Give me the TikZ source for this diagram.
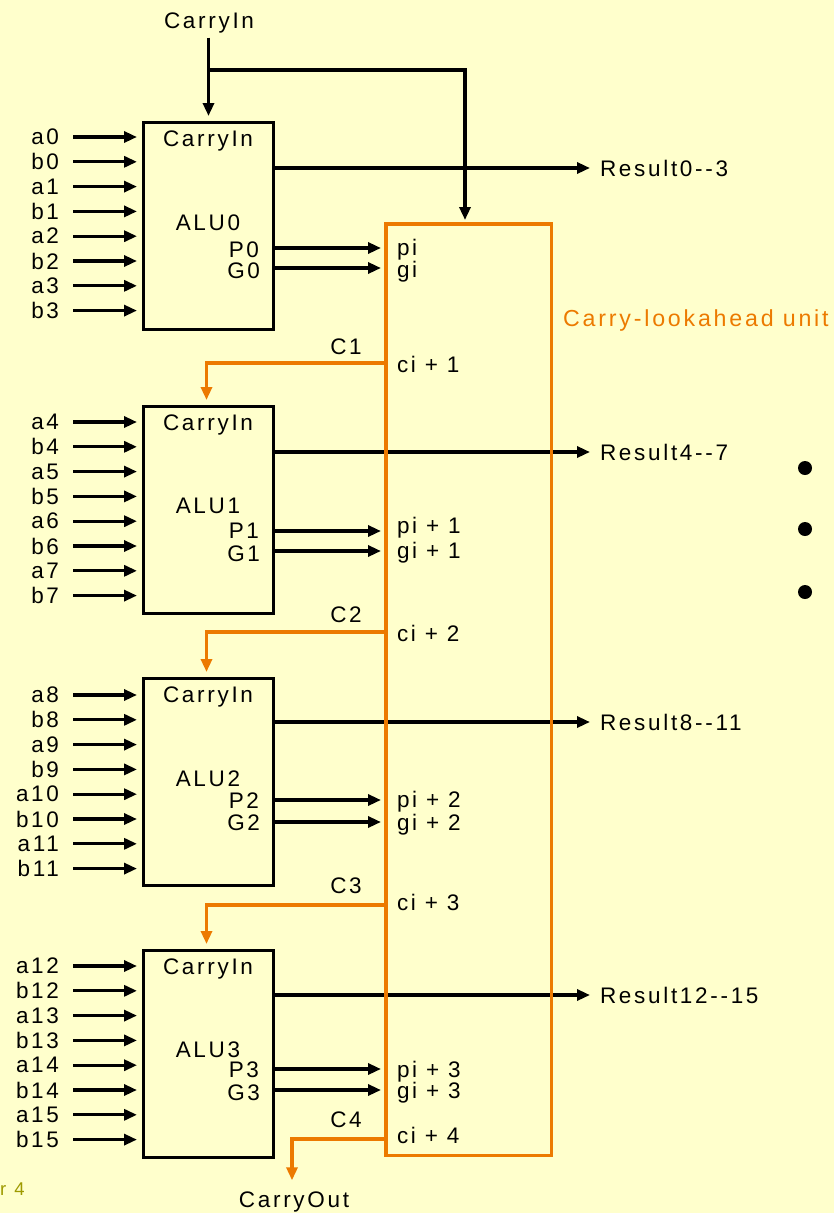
\documentclass[tikz,border=0pt]{standalone}
\usepackage{fontspec}
\usetikzlibrary{arrows.meta}
\newfontfamily\lf[LetterSpace=12,Ligatures=TeXOff]{Liberation Sans}
\newfontfamily\lfw[LetterSpace=16,Ligatures=TeXOff]{Liberation Sans}
\definecolor{bgc}{HTML}{FFFFCC}
\definecolor{orng}{HTML}{EC7A00}
\definecolor{olv}{HTML}{9E9A00}
\begin{document}
\begin{tikzpicture}[x=1pt,y=-1pt,
  txt/.style={font=\lf\fontsize{22.5}{27}\selectfont,inner sep=0pt,outer sep=0pt},
  wire/.style={line width=3.2pt},
  arr/.style={wire,-{Triangle[length=13pt,width=11pt]}},
  owire/.style={line width=3.2pt,color=orng},
  oarr/.style={owire,-{Triangle[length=13pt,width=11pt]}},
  blk/.style={draw,line width=3pt,minimum width=130pt,minimum height=207pt,anchor=north west,inner sep=0pt},
  dot/.style={circle,fill,inner sep=0pt,minimum size=14pt}]
\fill[bgc] (0,0) rectangle (834,1213);
\useasboundingbox (0,0) rectangle (834,1213);

% carry-lookahead unit (border drawn at the end)
\node[minimum width=165pt,minimum height=931pt,anchor=north west,inner sep=0pt] (cla) at (386,224) {};

% ALU blocks
\foreach \k/\Ytop/\Yfirst/\Yalu/\Ypl/\Ypb/\Ygl/\Ygb/\Yrl/\Yrb/\Ypib/\Ygib/\Lres/\Lpi/\Lgi in {
  0/121/137/230/248/257/268/278/168/176/255/277/{Result0--3}/{pi}/{gi},
  1/405/422/513/531/538/551/561/452/460/533/558/{Result4--7}/{pi + 1}/{gi + 1},
  2/677/695/786/800/808/822/830/722/730/807/830/{Result8--11}/{pi + 2}/{gi + 2},
  3/949/966/1057/1069/1077/1090/1100/995/1003/1077/1098/{Result12--15}/{pi + 3}/{gi + 3}}{
  \node[blk] (alu\k) at (142,\Ytop) {};
  \node[txt,anchor=base] (cin\k) at (208,\Ytop+25) {CarryIn};
  \node[txt,anchor=base] (alul\k) at (208,\Yalu) {ALU\k};
  \node[txt,anchor=base east] (pl\k) at (259,\Ypb) {P\k};
  \node[txt,anchor=base east] (gl\k) at (260,\Ygb) {G\k};
  \node[txt,anchor=base west] (pil\k) at (397,\Ypib) {\Lpi};
  \node[txt,anchor=base west] (gil\k) at (397,\Ygib) {\Lgi};
  \node[txt,anchor=base west] (res\k) at (600,\Yrb) {\Lres};
  \draw[arr,shorten >=10pt] (alu\k.east |- 0,\Yrl) -- (res\k.west |- 0,\Yrl);
  \draw[arr,shorten >=5pt] (alu\k.east |- 0,\Ypl) -- (cla.west |- 0,\Ypl);
  \draw[arr,shorten >=5pt] (alu\k.east |- 0,\Ygl) -- (cla.west |- 0,\Ygl);
  \foreach \i in {0,...,7}{
    \pgfmathtruncatemacro\idx{\k*4+div(\i,2)}
    \pgfmathsetmacro\yy{\Yfirst+24.8*\i}
    \node[txt,anchor=east] (in\k-\i) at (59,\yy) {\ifodd\i\relax b\else a\fi\idx};
    \draw[arr,shorten >=5pt] ([xshift=14pt]in\k-\i.east) -- (in\k-\i.east -| alu\k.west);
  }
}

% carry signals from the lookahead unit
\foreach \k/\cl/\cb/\cib in {1/363/354/372, 2/632/622/641, 3/905/893/910, 4/1139/1127/1143}{
  \node[txt,anchor=base] (Cl\k) at (346,\cb) {C\k};
  \node[txt,anchor=base west] (cil\k) at (397,\cib) {ci + \k};
}
\draw[oarr,shorten >=5pt] (cla.west |- 0,363) -| ([xshift=-2pt]alu1.north);
\draw[oarr,shorten >=5pt] (cla.west |- 0,632) -| ([xshift=-2pt]alu2.north);
\draw[oarr,shorten >=5pt] (cla.west |- 0,905) -| ([xshift=-2pt]alu3.north);
\node[txt,anchor=base] (cout) at (294,1207) {CarryOut};
\draw[oarr] (cla.west |- 0,1139) -| ([xshift=-2pt,yshift=11pt]cout.north);

% top carry in
\node[txt,anchor=base] (cinT) at (209,28) {CarryIn};
\draw[arr,shorten <=5pt,shorten >=5pt] (cinT.south -| alu0.north) -- (alu0.north);
\coordinate (split) at (207,70);
\draw[arr,shorten >=4pt] (split) -| (cla.north -| 465,0);

% lookahead unit border and label
\draw[owire] (cla.north west) rectangle (cla.south east);
\node[font=\lf\fontsize{23.2}{28}\selectfont,inner sep=0pt,text=orng,anchor=base west] (clal) at (563,326) {Carry-lookahead unit};

% ellipsis dots
\node[dot] (d1) at (805,468) {};
\node[dot] (d2) at (805,529) {};
\node[dot] (d3) at (805,592) {};

% footer fragment
\node[font=\lfw\fontsize{18.5}{20}\selectfont,text=olv,anchor=base west,inner sep=0pt] (ftr) at (0,1195) {r 4};
\end{tikzpicture}
\end{document}
